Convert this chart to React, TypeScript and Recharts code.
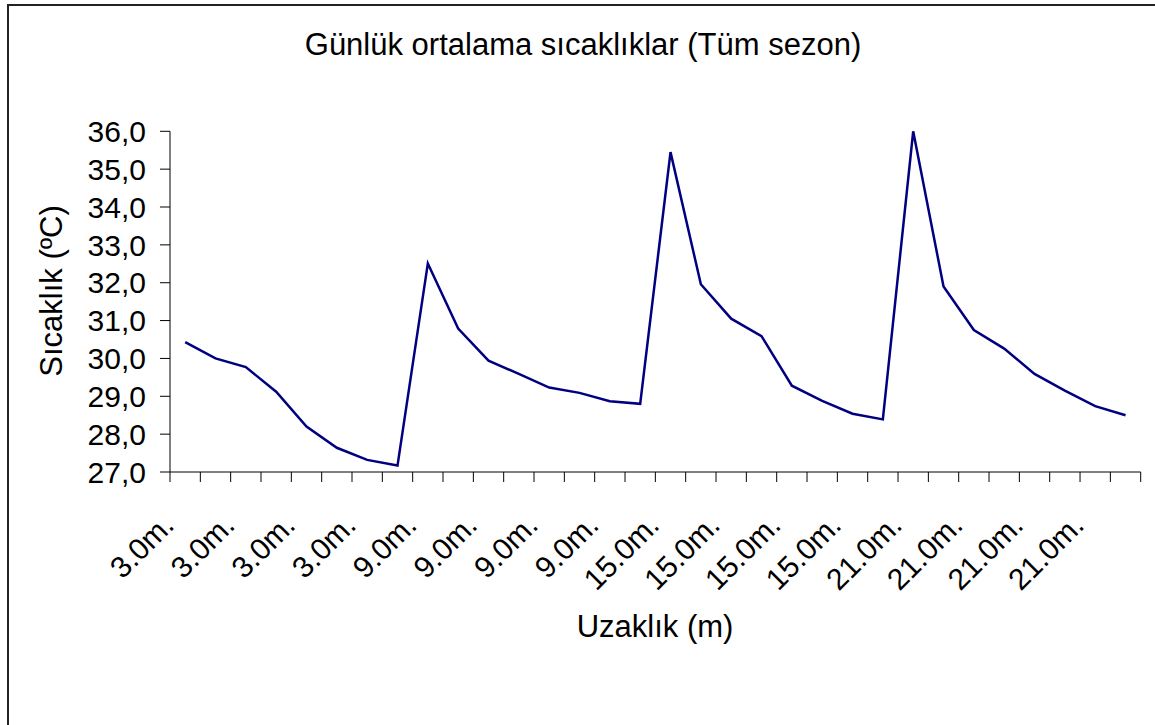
import React from 'react';
import { LineChart, Line, XAxis, YAxis } from 'recharts';

const FONT = '"Liberation Sans", Arial, sans-serif';

// distance groups, 8 readings each
const distances = ['3.0m.', '9.0m.', '15.0m.', '21.0m.'];
const readingsPerDistance = 8;

// daily mean temperatures (°C)
const temps3m = [30.43, 30.0, 29.77, 29.12, 28.2, 27.64, 27.32, 27.17];
const temps9m = [32.51, 30.79, 29.94, 29.59, 29.23, 29.09, 28.87, 28.8];
const temps15m = [35.45, 31.96, 31.05, 30.59, 29.28, 28.88, 28.54, 28.39];
const temps21m = [36.0, 31.9, 30.75, 30.26, 29.59, 29.15, 28.74, 28.5];

const yTicks = [27, 28, 29, 30, 31, 32, 33, 34, 35, 36];

const allTemps = [...temps3m, ...temps9m, ...temps15m, ...temps21m];
const data = allTemps.map((t, i) => ({
  pos: i + 0.5,
  label: distances[Math.floor(i / readingsPerDistance)],
  temp: t,
}));
// tick marks sit between categories, labels on every other category
const boundaryTicks = Array.from({ length: allTemps.length + 1 }, (_, i) => i);
const labelTicks = data.filter((_, i) => i % 2 === 0).map(d => d.pos);

const fmt = (v: number) => v.toFixed(1).replace('.', ',');

function LabelTick(props: any) {
  const { x, y, payload } = props;
  const entry = data[Math.floor(payload.value)];
  const ax = x - 9.5;
  const ay = y + 54;
  return (
    <text
      x={ax}
      y={ay}
      transform={`rotate(-45, ${ax}, ${ay})`}
      textAnchor="end"
      fontSize={30}
      fontFamily={FONT}
      fill="#000"
    >
      {entry ? entry.label : ''}
    </text>
  );
}

export default function App() {
  return (
    <div style={{ position: 'absolute', left: 0, top: 0, width: 1155, height: 725, overflow: 'hidden', background: '#fff' }}>
      {/* frame of the chart area, only top/left edges are visible */}
      <div
        style={{
          position: 'absolute', left: 7, top: 4, width: 1300, height: 900,
          borderLeft: '2px solid #222', borderTop: '2px solid #222',
        }}
      />
      <div style={{ position: 'absolute', left: 0, top: 0 }}>
        <LineChart width={1155} height={725} data={data} margin={{ top: 131.3, right: 14.3, left: 0, bottom: 0 }}>
          <XAxis
            xAxisId="b"
            type="number"
            dataKey="pos"
            domain={[0, allTemps.length]}
            ticks={labelTicks}
            interval={0}
            tick={<LabelTick />}
            tickLine={false}
            axisLine={false}
            tickSize={0}
            tickMargin={0}
            height={252}
          />
          <XAxis
            xAxisId="a"
            type="number"
            dataKey="pos"
            domain={[0, allTemps.length]}
            ticks={boundaryTicks}
            interval={0}
            tick={() => <g />}
            tickSize={10}
            height={1}
            axisLine={{ stroke: '#000', strokeWidth: 1 }}
            tickLine={{ stroke: '#000', strokeWidth: 1 }}
          />
          <YAxis
            type="number"
            domain={[27, 36]}
            ticks={yTicks}
            interval={0}
            width={170}
            tickFormatter={fmt}
            tickSize={10}
            tickMargin={14}
            axisLine={{ stroke: '#000', strokeWidth: 1 }}
            tickLine={{ stroke: '#000', strokeWidth: 1 }}
            tick={{ fontSize: 30, fill: '#000', fontFamily: FONT }}
          />
          <Line
            xAxisId="a"
            type="linear"
            dataKey="temp"
            stroke="#000080"
            strokeWidth={2.5}
            dot={false}
            isAnimationActive={false}
          />
        </LineChart>
      </div>
      <svg width={1155} height={725} style={{ position: 'absolute', left: 0, top: 0, pointerEvents: 'none' }}>
        <text x={583} y={55} textAnchor="middle" fontSize={31} fontFamily={FONT} fill="#000">
          Günlük ortalama sıcaklıklar (Tüm sezon)
        </text>
        <text x={62} y={291} textAnchor="middle" transform="rotate(-90, 62, 291)" fontSize={31} fontFamily={FONT} fill="#000">
          Sıcaklık (ºC)
        </text>
        <text x={655} y={637} textAnchor="middle" fontSize={31} fontFamily={FONT} fill="#000">
          Uzaklık (m)
        </text>
      </svg>
    </div>
  );
}
